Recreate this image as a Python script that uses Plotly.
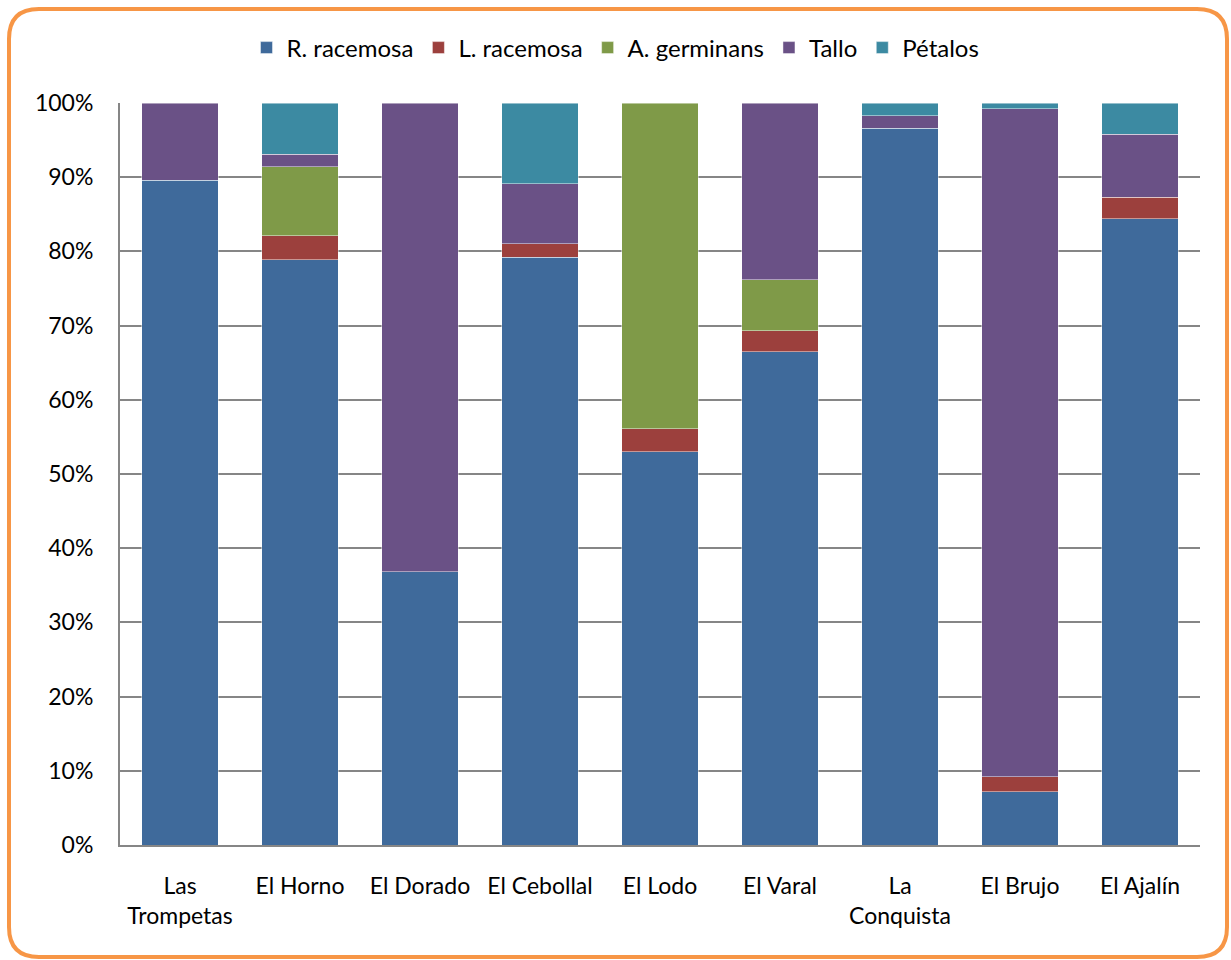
import plotly.graph_objects as go

# Sites (x categories); "<br>" wraps the two-word names
sites = ["Las<br>Trompetas", "El Horno", "El Dorado", "El Cebollal", "El Lodo",
         "El Varal", "La<br>Conquista", "El Brujo", "El Ajalín"]

# Share of each component per site (%); None = absent
r_racemosa = [89.6, 78.9, 36.8, 79.2, 53.0, 66.5, 96.6, 7.2, 84.4]
l_racemosa = [None, 3.2, None, 1.8, 3.1, 2.8, None, 2.0, 2.9]
a_germinans = [None, 9.3, None, None, 43.9, 6.9, None, None, None]
tallo = [10.4, 1.7, 63.2, 8.1, None, 23.8, 1.7, 90.0, 8.5]
petalos = [None, 6.9, None, 10.9, None, None, 1.7, 0.8, 4.2]

series = [
    ("R. racemosa", r_racemosa, "#3F6A9B"),
    ("L. racemosa", l_racemosa, "#9C403D"),
    ("A. germinans", a_germinans, "#7F9A48"),
    ("Tallo", tallo, "#6A5186"),
    ("Pétalos", petalos, "#3C8AA2"),
]

y_ticks = list(range(0, 101, 10))
y_labels = [f"{v}%" for v in y_ticks]

FONT = "Lato, 'Open Sans', sans-serif"
FS = 23
W, H = 1231, 960
ML, MR, MT, MB = 120, 31, 103, 115

fig = go.Figure()
for name, vals, color in series:
    fig.add_trace(go.Bar(
        name=name, x=sites, y=vals,
        marker=dict(color=color, line=dict(color="rgba(255,255,255,0.45)", width=1)),
        width=0.64,
    ))

# Rounded orange frame around the whole chart, expressed in paper units
pw, ph = W - ML - MR, H - MT - MB


def px(x):
    return (x - ML) / pw


def py(y):
    return (H - MB - y) / ph


x0, x1, y0, y1, rad = 9, 1227, 9, 957, 30
frame = (
    f"M {px(x0 + rad)},{py(y0)} L {px(x1 - rad)},{py(y0)} "
    f"Q {px(x1)},{py(y0)} {px(x1)},{py(y0 + rad)} "
    f"L {px(x1)},{py(y1 - rad)} "
    f"Q {px(x1)},{py(y1)} {px(x1 - rad)},{py(y1)} "
    f"L {px(x0 + rad)},{py(y1)} "
    f"Q {px(x0)},{py(y1)} {px(x0)},{py(y1 - rad)} "
    f"L {px(x0)},{py(y0 + rad)} "
    f"Q {px(x0)},{py(y0)} {px(x0 + rad)},{py(y0)} Z"
)

fig.update_layout(
    width=W, height=H,
    barmode="stack",
    paper_bgcolor="white", plot_bgcolor="white",
    margin=dict(l=ML, r=MR, t=MT, b=MB),
    font=dict(family=FONT, size=FS, color="#000000"),
    legend=dict(
        orientation="h", xref="container", yref="container",
        x=0.5, xanchor="center", y=0.95, yanchor="middle",
        font=dict(size=24), itemwidth=30, traceorder="normal",
    ),
    xaxis=dict(
        showline=True, linecolor="#868686", linewidth=2,
        ticks="", ticklabelstandoff=19, tickfont=dict(size=FS),
    ),
    yaxis=dict(
        range=[0, 100], tickmode="array", tickvals=y_ticks, ticktext=y_labels,
        showgrid=True, gridcolor="#868686", gridwidth=1.5,
        showline=True, linecolor="#868686", linewidth=2,
        zeroline=False, ticks="", ticklabelstandoff=20, tickfont=dict(size=FS),
    ),
    shapes=[dict(type="path", xref="paper", yref="paper", path=frame,
                 line=dict(color="#F79646", width=4), layer="above")],
    showlegend=True,
)

fig.write_html("out.html")
